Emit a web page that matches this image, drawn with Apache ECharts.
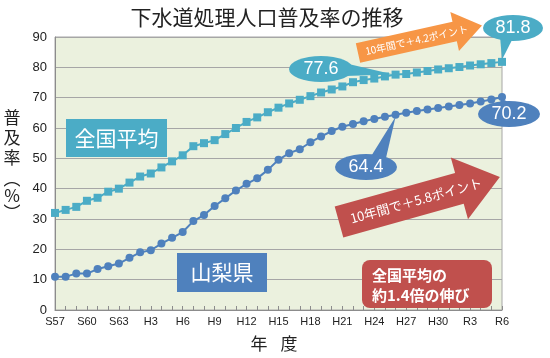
<!DOCTYPE html>
<html><head><meta charset="utf-8">
<script src="https://cdn.jsdelivr.net/npm/echarts@6/dist/echarts.min.js"></script>
<style>html,body{margin:0;padding:0;background:#fff}#c{width:550px;height:358px}</style>
</head><body><div id="c"></div>
<script>
const years = ['S57','S58','S59','S60','S61','S62','S63',
  'H1','H2','H3','H4','H5','H6','H7','H8','H9','H10','H11','H12','H13','H14','H15','H16','H17','H18','H19','H20',
  'H21','H22','H23','H24','H25','H26','H27','H28','H29','H30','R1','R2','R3','R4','R5','R6'];
const national = [32,33,34,36,37,39,40,42,44,45,47,49,51,54,55,56,58,60,62,63.5,65.2,66.7,68.1,69.3,70.5,71.7,72.7,
  73.7,75.1,75.8,76.3,77.0,77.6,77.8,78.3,78.8,79.3,79.7,80.1,80.6,81.0,81.4,81.8];
const yamanashi = [11,11,12,12,13.5,14.4,15.3,17.2,19.0,19.7,21.9,23.8,25.7,29.3,31.3,34.3,36.8,39.4,41.6,43.4,46.2,49.5,51.7,53.0,55.3,57.2,59.0,
  60.4,61.3,62.2,63.0,63.7,64.4,65.0,65.6,66.1,66.6,67.1,67.6,68.1,68.7,69.4,70.2];
const seriesNames = ['全国平均','山梨県'];
const yTicks = {min:0, max:90, interval:10};
const title = '下水道処理人口普及率の推移';
const yName = ['普','及','率','︵','%','︶'];
const xName = ['年','度'];
const callouts = [
  {idx:32, series:0, text:'77.6'},
  {idx:42, series:0, text:'81.8'},
  {idx:42, series:1, text:'70.2'},
  {idx:32, series:1, text:'64.4'}
];
const arrowTexts = ['10年間で＋4.2ポイント','10年間で＋5.8ポイント'];
const noteLines = ['全国平均の','約1.4倍の伸び'];

const C_NAT = '#4bacc6', C_YAM = '#4f81bd', C_ORG = '#f79646', C_RED = '#c0504d';
const JP = '"Noto Sans CJK JP", sans-serif';
const chart = echarts.init(document.getElementById('c'), null, {renderer:'canvas'});

chart.setOption({
  animation:false,
  grid:{left:55, right:48, top:37, bottom:48, show:true, backgroundColor:'#ebf1de', borderColor:'#a6a6a6', borderWidth:1},
  xAxis:{type:'category', data:years, boundaryGap:false,
    axisLine:{lineStyle:{color:'#8c8c8c', width:1}},
    axisTick:{show:true, interval:0, inside:true, length:4, lineStyle:{color:'#8c8c8c'}},
    axisLabel:{interval:2, fontSize:11, color:'#222', fontFamily:'"Liberation Sans", Arial, sans-serif', margin:6},
    splitLine:{show:false}},
  yAxis:{type:'value', min:yTicks.min, max:yTicks.max, interval:yTicks.interval,
    axisLine:{show:true, lineStyle:{color:'#8c8c8c'}},
    axisTick:{show:false},
    axisLabel:{fontSize:13, color:'#222', fontFamily:'"Liberation Sans", Arial, sans-serif', margin:8},
    splitLine:{lineStyle:{color:'#a6a6a6', width:1}}},
  series:[
    {name:seriesNames[0], type:'line', data:national, symbol:'rect', symbolSize:8, showSymbol:true, showAllSymbol:true,
     lineStyle:{color:C_NAT, width:2}, itemStyle:{color:C_NAT}, z:3},
    {name:seriesNames[1], type:'line', data:yamanashi, symbol:'circle', symbolSize:8, showSymbol:true, showAllSymbol:true,
     lineStyle:{color:C_YAM, width:2}, itemStyle:{color:C_YAM}, z:3}
  ]
});

function px(c){ return chart.convertToPixel({gridIndex:0}, [c.idx, (c.series===0?national:yamanashi)[c.idx]]); }
const p0 = px(callouts[0]), p1 = px(callouts[1]), p2 = px(callouts[2]), p3 = px(callouts[3]);

function ellipse(cx, cy, rx, ry, color){
  return {type:'circle', x:cx, y:cy, shape:{cx:0, cy:0, r:rx}, scaleY:ry/rx, style:{fill:color}, z:20};
}
function label(cx, cy, t, size){
  return {type:'text', x:cx, y:cy, z:21, style:{text:t, fill:'#fff', fontSize:size, fontFamily:'"Liberation Sans", Arial, sans-serif', align:'center', verticalAlign:'middle'}};
}
function arrow(x, y, angDeg, len, bh, hh, hl, color, txt, tcx, fs){
  return {type:'group', x:x, y:y, rotation:angDeg*Math.PI/180, z:15, children:[
    {type:'polygon', shape:{points:[[0,-bh],[len-hl,-bh],[len-hl,-hh],[len,0],[len-hl,hh],[len-hl,bh],[0,bh]]}, style:{fill:color}, z:15},
    {type:'text', x:tcx, y:0, style:{text:txt, fill:'#fff', fontSize:fs, fontFamily:JP, align:'center', verticalAlign:'middle'}, z:16}
  ]};
}

const g = [];
g.push({type:'text', x:267, y:17, style:{text:title, fontSize:21, fill:'#222', fontFamily:JP, align:'center', verticalAlign:'middle'}});
yName.forEach((ch,i)=>{
  const ys = [118,138,158,179,196,213];
  g.push({type:'text', x:12, y:ys[i], style:{text:ch, fontSize:17, fill:'#222', fontFamily:JP, align:'center', verticalAlign:'middle'}});
});
xName.forEach((ch,i)=>{
  g.push({type:'text', x:259 + i*30, y:344, style:{text:ch, fontSize:17, fill:'#222', fontFamily:JP, align:'center', verticalAlign:'middle'}});
});
g.push({type:'rect', shape:{x:66, y:119, width:101, height:38}, style:{fill:C_NAT}, z:20});
g.push({type:'text', x:116.5, y:138, z:21, style:{text:seriesNames[0], fill:'#fff', fontSize:21, fontFamily:JP, align:'center', verticalAlign:'middle'}});
g.push({type:'rect', shape:{x:177, y:253, width:90, height:39}, style:{fill:C_YAM}, z:20});
g.push({type:'text', x:222, y:272.5, z:21, style:{text:seriesNames[1], fill:'#fff', fontSize:21, fontFamily:JP, align:'center', verticalAlign:'middle'}});
g.push({type:'polygon', shape:{points:[[340,62],[345,76],[p0[0]-2,p0[1]]]}, style:{fill:C_NAT}, z:19});
g.push(ellipse(321,69,32,13,C_NAT)); g.push(label(321,69,callouts[0].text,18));
g.push({type:'polygon', shape:{points:[[500,36],[513,38],[p1[0],p1[1]-2]]}, style:{fill:C_NAT}, z:19});
g.push(ellipse(513,28,30,13,C_NAT)); g.push(label(513,28,callouts[1].text,18));
g.push({type:'polygon', shape:{points:[[496,108],[513,104],[p2[0],p2[1]+2]]}, style:{fill:C_YAM}, z:19});
g.push(ellipse(509,114,31,13,C_YAM)); g.push(label(509,114,callouts[2].text,18));
g.push({type:'polygon', shape:{points:[[370,158],[386,158],[p3[0],p3[1]+2]]}, style:{fill:C_YAM}, z:19});
g.push(ellipse(366,167,31,13,C_YAM)); g.push(label(366,167,callouts[3].text,18));
g.push(arrow(358,53,12.5,127,10,20,28,C_ORG,arrowTexts[0],60,10));
g.push(arrow(339,222,15.6,167,16,32,42,C_RED,arrowTexts[1],80,13));
g.push({type:'rect', shape:{x:362, y:260, width:130, height:48, r:8}, style:{fill:C_RED}, z:20});
g.push({type:'text', x:372, y:275, z:21, style:{text:noteLines[0], fill:'#fff', fontSize:15, fontWeight:'bold', fontFamily:JP, align:'left', verticalAlign:'middle'}});
g.push({type:'text', x:372, y:295, z:21, style:{text:noteLines[1], fill:'#fff', fontSize:15, fontWeight:'bold', fontFamily:JP, align:'left', verticalAlign:'middle'}});

chart.setOption({graphic:{elements:g}});
</script></body></html>
